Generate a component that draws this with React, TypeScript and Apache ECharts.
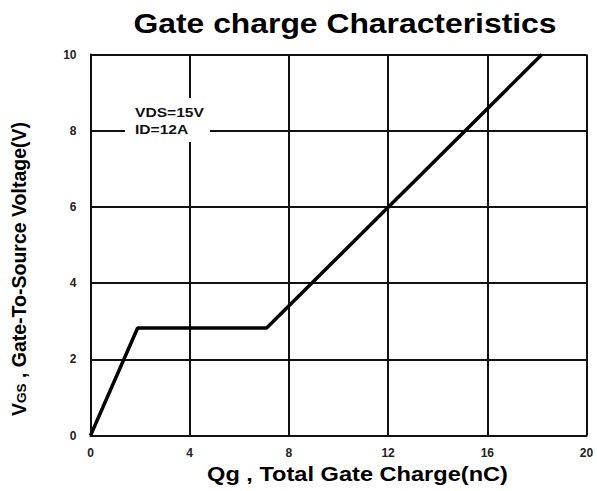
import React, { useEffect, useRef } from "react";
import * as echarts from "echarts";

const qg = [0, 1.9, 7.1, 18.2];
const vgs = [0, 2.82, 2.82, 10];
const xTicks = [0, 4, 8, 12, 16, 20];
const yTicks = [0, 2, 4, 6, 8, 10];
const conditionLines = ["VDS=15V", "ID=12A"];
const titleText = "Gate charge Characteristics";
const xName = "Qg , Total Gate Charge(nC)";

const FONT = "'Liberation Sans', Arial, sans-serif";

export default function App() {
  const ref = useRef<HTMLDivElement>(null);
  useEffect(() => {
    if (!ref.current) return;
    const chart = echarts.init(ref.current, undefined, { renderer: "svg" });
    chart.setOption({
      animation: false,
      backgroundColor: "#ffffff",
      grid: { left: 90.5, right: 10.5, top: 54.5, bottom: 55.5, show: false },
      xAxis: {
        type: "value",
        min: xTicks[0],
        max: xTicks[xTicks.length - 1],
        interval: 4,
        axisLine: { show: true, lineStyle: { color: "#111", width: 2 } },
        axisTick: { show: false },
        axisLabel: { fontFamily: FONT, fontSize: 12, fontWeight: "bold", color: "#222", margin: 11 },
        splitLine: { show: true, lineStyle: { color: "#111", width: 2, type: "solid" } },
      },
      yAxis: {
        type: "value",
        min: yTicks[0],
        max: yTicks[yTicks.length - 1],
        interval: 2,
        name: "{v|V}{s|GS}{v| , Gate-To-Source Voltage(V)}",
        nameLocation: "middle",
        nameGap: 62,
        nameRotate: 90,
        nameTextStyle: {
          padding: [0, 48, 0, 0],
          rich: {
            v: { fontFamily: FONT, fontSize: 19.5, fontWeight: "bold", color: "#000" },
            s: { fontFamily: FONT, fontSize: 13.5, fontWeight: "bold", color: "#000", verticalAlign: "bottom", padding: [6, 0, 0, 0] },
          },
        },
        axisLine: { show: true, lineStyle: { color: "#111", width: 2 } },
        axisTick: { show: false },
        axisLabel: { fontFamily: FONT, fontSize: 12, fontWeight: "bold", color: "#222", margin: 14 },
        splitLine: { show: true, lineStyle: { color: "#111", width: 2, type: "solid" } },
      },
      graphic: [
        {
          type: "text",
          z: 100,
          x: 345,
          y: 23.5,
          scaleX: 1.18,
          style: {
            text: titleText,
            fontFamily: FONT,
            fontSize: 27,
            fontWeight: "bold",
            fill: "#000",
            align: "center",
            verticalAlign: "middle",
          },
        },
        {
          type: "text",
          z: 100,
          x: 357.5,
          y: 474,
          scaleX: 1.18,
          style: {
            text: xName,
            fontFamily: FONT,
            fontSize: 20,
            fontWeight: "bold",
            fill: "#000",
            align: "center",
            verticalAlign: "middle",
          },
        },
        {
          type: "rect",
          z: 100,
          shape: { x: 125, y: 98, width: 85, height: 44 },
          style: { fill: "#ffffff" },
        },
        {
          type: "text",
          z: 101,
          x: 135,
          y: 104,
          scaleX: 1.2,
          style: {
            text: conditionLines.join("\n"),
            fontFamily: FONT,
            fontSize: 13,
            fontWeight: "bold",
            fill: "#111",
            lineHeight: 17,
          },
        },
      ],
      series: [
        {
          type: "line",
          data: qg.map((q, i) => [q, vgs[i]]),
          symbol: "none",
          lineStyle: { color: "#000", width: 3.5 },
          z: 10,
        },
      ],
    });
    return () => chart.dispose();
  }, []);
  return <div ref={ref} style={{ position: "fixed", left: 0, top: 0, width: 597, height: 491 }} />;
}
